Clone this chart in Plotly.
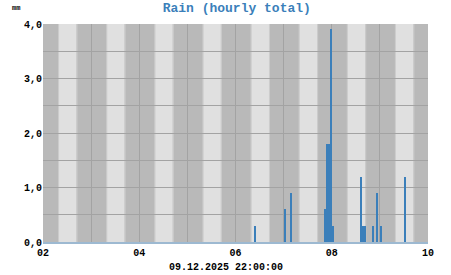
import plotly.graph_objects as go
import pandas as pd

# ---- data ----
rain_times = [
    "2025-12-06 09:00", "2025-12-07 00:00", "2025-12-07 03:00",
    "2025-12-07 20:00", "2025-12-07 21:00", "2025-12-07 22:00",
    "2025-12-07 23:00", "2025-12-08 00:00", "2025-12-08 14:00",
    "2025-12-08 15:00", "2025-12-08 16:00", "2025-12-08 20:00",
    "2025-12-08 22:00", "2025-12-09 00:00", "2025-12-09 12:00",
]
rain_mm = [0.3, 0.6, 0.9, 0.6, 1.8, 1.8, 3.9, 0.3, 1.2, 0.3, 0.3, 0.3, 0.9, 0.3, 1.2]
days = ["2025-12-02", "2025-12-03", "2025-12-04", "2025-12-05",
        "2025-12-06", "2025-12-07", "2025-12-08", "2025-12-09"]
sunrise_h = 8.0
sunset_h = 16.7
title_text = "Rain (hourly total)"
unit_text = "mm"
stamp_text = "09.12.2025 22:00:00"
x_start = "2025-12-02 00:00"
x_end = "2025-12-10 00:00"

FONT = "Liberation Mono"
DARK = "#b9b9b9"
MID = "#cdcdcd"
LIGHT = "#e0e0e0"
GRID = "#a3a3a3"
BAR = "#3b7fba"

fig = go.Figure()
fig.add_trace(go.Bar(
    x=pd.to_datetime(rain_times), y=rain_mm,
    width=3600000, offset=0,
    marker=dict(color=BAR, line=dict(width=0)),
))

shapes = []
for d in days:
    d0 = pd.Timestamp(d)
    sr = d0 + pd.Timedelta(hours=sunrise_h)
    ss = d0 + pd.Timedelta(hours=sunset_h)
    half = pd.Timedelta(minutes=30)
    for a, b, c in [(sr - half, sr, MID), (sr, ss, LIGHT), (ss, ss + half, MID)]:
        shapes.append(dict(type="rect", xref="x", yref="paper", x0=a, x1=b,
                           y0=0, y1=1, fillcolor=c, line=dict(width=0),
                           layer="below"))

fig.update_layout(
    width=451, height=275,
    margin=dict(l=43, r=23, t=24, b=33),
    paper_bgcolor="white", plot_bgcolor=DARK,
    showlegend=False, bargap=0,
    shapes=shapes,
    separators=",.",
    font=dict(family=FONT, size=10, color="black", weight="bold"),
    title=dict(text=title_text, x=0.525, xanchor="center", y=0.973, yanchor="middle",
               yref="container",
               font=dict(family=FONT, size=13, color="#3b7fba", weight="bold")),
    xaxis=dict(type="date", range=[x_start, x_end], dtick=2 * 86400000,
               tick0=x_start, tickformat="%d", showgrid=True, gridcolor=GRID,
               gridwidth=1, ticks="", showline=True, linecolor="#9db9d1",
               linewidth=1.5, zeroline=False,
               minor=dict(dtick=86400000, showgrid=True, gridcolor=GRID, gridwidth=1),
               tickfont=dict(family=FONT, size=10, color="black", weight="bold")),
    yaxis=dict(range=[0, 4], dtick=1, tickformat=".1f", showgrid=True,
               gridcolor=GRID, gridwidth=1, ticks="", zeroline=False,
               showline=False,
               minor=dict(dtick=0.5, showgrid=True, gridcolor=GRID, gridwidth=1),
               tickfont=dict(family=FONT, size=10, color="black", weight="bold")),
    annotations=[
        dict(text=unit_text, xref="paper", yref="paper", x=-0.085, y=1.075,
             xanchor="left", yanchor="middle", showarrow=False,
             font=dict(family=FONT, size=7, color="black")),
        dict(text=stamp_text, xref="paper", yref="paper", x=0.475, y=-0.119,
             xanchor="center", yanchor="middle", showarrow=False,
             font=dict(family=FONT, size=10, color="black", weight="bold")),
    ],
)

fig.write_html("out.html")
